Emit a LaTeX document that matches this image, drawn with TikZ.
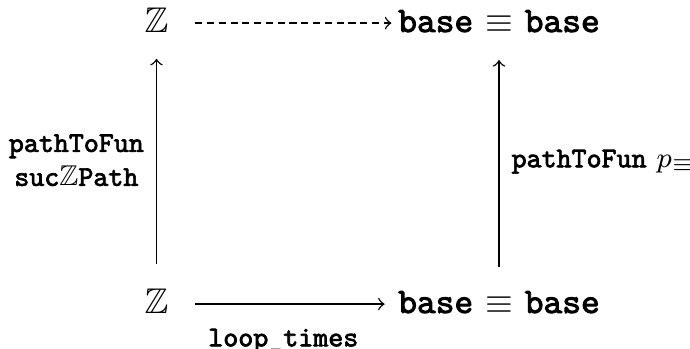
\documentclass[tikz,border=0pt]{standalone}
\usepackage{amssymb}
\usepackage{fontspec}
\setmonofont{lmmono10-regular.otf}[BoldFont=lmmono10-regular.otf, BoldFeatures={FakeBold=2.5}]
\usetikzlibrary{arrows}

\newcommand{\tb}[1]{\texttt{\textbf{#1}}}

\begin{document}
\begin{tikzpicture}[x=0.28pt,y=0.28pt]
            \tikzstyle{every node}+=[inner sep=0pt]
            \tikzstyle{lbl}=[inner sep=0.3333em, font=\footnotesize]
            \tikzstyle{dashy}=[dash pattern=on 2pt off 1.3pt]
            \useasboundingbox (0,0) rectangle (690,-348);
            \node [anchor=base] (zt) at (156.5,-32) {$\mathbb{Z}$};
            \node [anchor=base] (bt) at (499,-32) {\tb{base} $\equiv$ \tb{base}};
            \node [anchor=base] (zb) at (156.5,-313) {$\mathbb{Z}$};
            \node [anchor=base] (bb) at (499,-313) {\tb{base} $\equiv$ \tb{base}};
            % top row, dashed
            \draw [black, dashy, ->, shorten <=7.3pt, shorten >=1.7pt]
                ([yshift=2.5pt]zt.base east) -- ([yshift=2.5pt]bt.base west);
            % bottom row
            \draw [black, ->, shorten <=7.3pt, shorten >=3.6pt]
                ([yshift=2.5pt]zb.base east) -- ([yshift=2.5pt]bb.base west)
                node [lbl, midway, below=3.4pt] {\tb{loop\_times}};
            % the two uprights
            \draw [black, ->, shorten <=6.7pt, shorten >=7.3pt] (zb.north) -- (zt.south)
                node [lbl, midway, left, align=center] {\tb{pathToFun}\\\tb{suc}$\mathbb{Z}$\tb{Path}};
            \draw [black, ->, shorten <=6.7pt, shorten >=7.6pt] (bb.north) -- (bt.south)
                node [lbl, midway, right] {\tb{pathToFun} $p_\equiv$};
        \end{tikzpicture}
\end{document}
